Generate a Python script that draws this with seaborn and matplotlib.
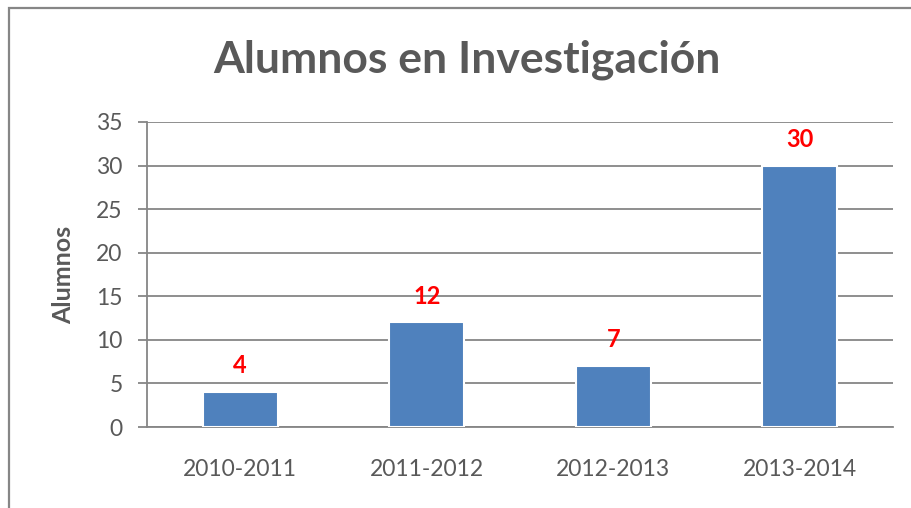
import matplotlib
matplotlib.use("Agg")
import matplotlib.pyplot as plt
import seaborn as sns
import pandas as pd
from matplotlib.patches import Rectangle

categories = ["2010-2011", "2011-2012", "2012-2013", "2013-2014"]
values = [4, 12, 7, 30]
title = "Alumnos en Investigación"
ylabel = "Alumnos"
yticks = [0, 5, 10, 15, 20, 25, 30, 35]

sns.set_theme(style="white")
plt.rcParams['font.family'] = ['Lato', 'DejaVu Sans']

df = pd.DataFrame({"periodo": categories, "alumnos": values})

fig = plt.figure(figsize=(9.12, 5.08), dpi=100)
W, H = 912, 508
ax = fig.add_axes([147 / W, 1 - 427 / H, (893 - 147) / W, (427 - 122) / H])

grid_c = "#868686"
text_c = "#595959"

sns.barplot(data=df, x="periodo", y="alumnos", color="#4F81BD", width=0.4,
            edgecolor="white", linewidth=1.5, saturation=1, ax=ax, zorder=3)

ax.set_ylim(0, 35)
ax.set_yticks(yticks)
ax.set_xlim(-0.5, len(categories) - 0.5)
ax.yaxis.grid(True, color=grid_c, linewidth=1.3, zorder=0)
ax.set_axisbelow(True)
for s in ["top", "right"]:
    ax.spines[s].set_visible(False)
for s in ["left", "bottom"]:
    ax.spines[s].set_color(grid_c)
    ax.spines[s].set_linewidth(1.3)
ax.tick_params(axis="y", which="both", left=True, length=6.5, width=1.3,
               color=grid_c, labelsize=16.5, labelcolor=text_c, pad=11)
ax.tick_params(axis="x", bottom=False, labelsize=16.5, labelcolor=text_c, pad=17)
ax.set_xlabel("")
ax.set_ylabel(ylabel, fontsize=18, fontweight="bold", color=text_c, labelpad=15)

for i, v in enumerate(values):
    ax.annotate(str(v), xy=(i, v), xytext=(0, 19), textcoords="offset points",
                ha="center", va="center", color="#FF0000", fontsize=17,
                fontweight="bold")

fig.text(467 / W, 1 - 60 / H, title, ha="center", va="center",
         fontsize=32, fontweight="bold", color=text_c)

frame = Rectangle((9 / W, -0.2), 1.2, 1.2 - 8 / H, transform=fig.transFigure,
                  fill=False, edgecolor=grid_c, linewidth=1.6, clip_on=False)
fig.patches.append(frame)

fig.savefig("out.png", dpi=100)
